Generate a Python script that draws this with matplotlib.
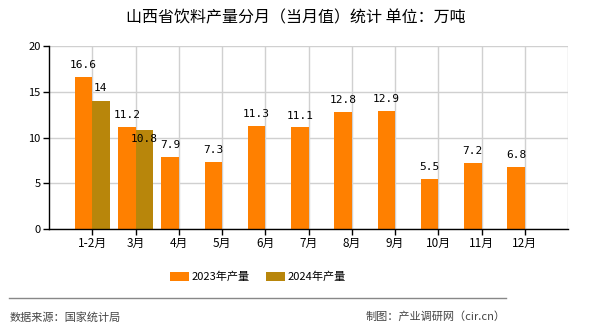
import matplotlib
matplotlib.use('Agg')
import matplotlib.pyplot as plt
import numpy as np
from matplotlib.lines import Line2D

plt.rcParams['font.family'] = ['Noto Sans CJK SC', 'DejaVu Sans']

months = ['1-2月', '3月', '4月', '5月', '6月', '7月', '8月', '9月', '10月', '11月', '12月']
output_2023 = [16.6, 11.2, 7.9, 7.3, 11.3, 11.1, 12.8, 12.9, 5.5, 7.2, 6.8]
output_2024 = [14, 10.8]
yticks = [0, 5, 10, 15, 20]

c2023 = '#FF8000'
c2024 = '#B8860B'
w = 0.4

fig = plt.figure(figsize=(5.9, 3.3), dpi=100)
ax = fig.add_axes([49 / 590, 1 - 229 / 330, 519 / 590, 183 / 330])

x = np.arange(1, len(months) + 1)
x24 = x[:len(output_2024)]
ax.bar(x - w / 2, output_2023, width=w, color=c2023, zorder=2, label='2023年产量')
ax.bar(x24 + w / 2, output_2024, width=w, color=c2024, zorder=2, label='2024年产量')

lab_font = dict(family=['DejaVu Sans Mono'], fontsize=8, ha='center', va='center')
for xi, v in zip(x, output_2023):
    ax.text(xi - w / 2, v + 1.3, f'{v:g}', **lab_font)
for i, (xi, v) in enumerate(zip(x24, output_2024)):
    # second label would collide with the 11.2 one, so it sits just under the bar top
    dy = 1.4 if i == 0 else -0.95
    ax.text(xi + w / 2, v + dy, f'{v:g}', **lab_font)

ax.set_xlim(0, len(months) + 1)
ax.set_ylim(0, 20)
ax.set_xticks(x)
ax.set_xticklabels(months, fontsize=8.5)
ax.set_yticks(yticks)
ax.set_yticklabels([str(t) for t in yticks], fontsize=8)
ax.tick_params(axis='both', length=4, width=1, color='black', pad=2)

ax.grid(True, color='#d0d0d0', linewidth=1, zorder=0)
ax.axvline(len(months) + 1, color='#d0d0d0', linewidth=1, zorder=0)
ax.set_axisbelow(True)
for s in ['top', 'right']:
    ax.spines[s].set_visible(False)
for s in ['left', 'bottom']:
    ax.spines[s].set_color('black')
    ax.spines[s].set_linewidth(1)

fig.text(296 / 590, 1 - 18 / 330, '山西省饮料产量分月（当月值）统计 单位：万吨',
         ha='center', va='center', fontsize=11.5)

fig.legend(loc='center', bbox_to_anchor=(258 / 590, 1 - 277 / 330), ncol=2,
           frameon=False, fontsize=8, handlelength=1.7, handleheight=0.8,
           columnspacing=1.4, handletextpad=0.3)

fig.add_artist(Line2D([9 / 590, 506 / 590], [1 - 298 / 330, 1 - 298 / 330],
                      color='#888888', linewidth=1, transform=fig.transFigure))
fig.text(10 / 590, 1 - 317 / 330, '数据来源：国家统计局', ha='left', va='center',
         fontsize=8, color='#444444')
fig.text(506 / 590, 1 - 317 / 330, '制图：产业调研网（cir.cn）', ha='right', va='center',
         fontsize=8, color='#444444')

fig.savefig('out.png', dpi=100)
